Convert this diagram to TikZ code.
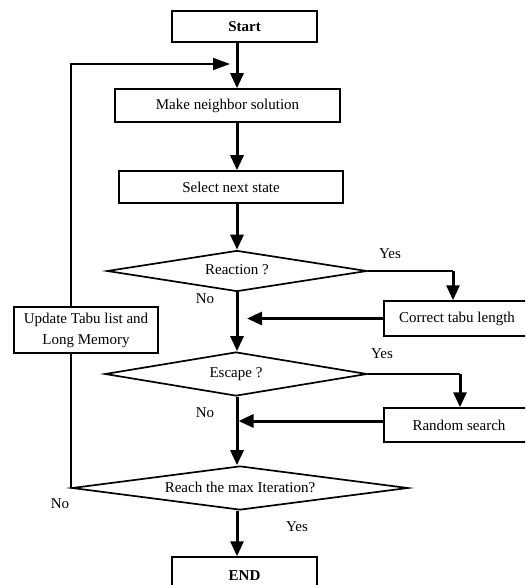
\documentclass[tikz,border=0pt]{standalone}
\usepackage{fontspec}
\setmainfont{Liberation Serif}
\usetikzlibrary{shapes.geometric,arrows.meta}
\begin{document}
\begin{tikzpicture}[x=1pt,y=-1pt,
  txt/.style={font=\fontsize{15}{21}\selectfont},
  box/.style={txt,draw,line width=1.5pt,fill=white,inner sep=0pt,align=center},
  dec/.style={txt,draw,diamond,aspect=7,line width=1.7pt,fill=white,inner sep=0pt},
  mainarrow/.style={line width=3pt,-{Triangle[length=15pt,width=13pt]}},
  thinline/.style={line width=2pt},
  looparrow/.style={line width=2pt,-{Triangle[length=17pt,width=12pt]}},
  lab/.style={txt,inner sep=0pt}]
\clip (0,0) rectangle (525,585);
\fill[white] (0,0) rectangle (525,585);
% nodes
\node[box,font=\fontsize{15}{21}\selectfont\bfseries,minimum width=145pt,minimum height=31pt] (start) at (244.5,26.5) {Start};
\node[box,minimum width=225pt,minimum height=33pt] (mk) at (227.5,105.5) {Make neighbor solution};
\node[box,minimum width=224pt,minimum height=32pt] (sel) at (231,187) {Select next state};
\node[dec,minimum width=260pt,minimum height=41pt] (react) at (237,271) {\raisebox{2pt}{Reaction ?}};
\node[dec,minimum width=262pt,minimum height=44pt] (esc) at (236,374) {\raisebox{2pt}{Escape ?}};
\node[dec,minimum width=336pt,minimum height=44pt] (reach) at (240,488) {\raisebox{1pt}{Reach the max Iteration?}};
\node[box,minimum width=144pt,minimum height=46pt] (upd) at (86,330) {Update Tabu list and\\Long Memory};
\node[box,minimum width=146pt,minimum height=35pt] (corr) at (457,318.5) {Correct tabu length};
\node[box,minimum width=150pt,minimum height=34pt] (rand) at (459,425) {Random search};
\node[box,font=\fontsize{15}{21}\selectfont\bfseries,minimum width=145pt,minimum height=38pt] (end) at (244.5,576) {END};
% labels
\node[lab] (y1) at (390,254) {Yes};
\node[lab] (n1) at (205,299) {No};
\node[lab] (y2) at (382,354) {Yes};
\node[lab] (n2) at (205,413) {No};
\node[lab] (n3) at (60,504) {No};
\node[lab] (y3) at (297,527) {Yes};
% coordinates
\coordinate (ycorr) at (453,271);
\coordinate (yrand) at (460,374);
\coordinate (ltop) at (73,64);
\coordinate (rw) at ([yshift=4pt]rand.west);
% main flow
\draw[mainarrow] (react.north |- start.south) -- (react.north |- mk.north);
\draw[mainarrow] (react.north |- mk.south) -- (react.north |- sel.north);
\draw[mainarrow] (react.north |- sel.south) -- (react.north);
\draw[mainarrow] (react.south) -- (react.south |- esc.north);
\draw[mainarrow] (react.south |- esc.south) -- (react.south |- reach.north);
\draw[mainarrow] (react.south |- reach.south) -- (react.south |- end.north);
% yes branches
\draw[thinline] (react.east) -- (ycorr);
\draw[mainarrow] (ycorr) -- (ycorr |- corr.north);
\draw[mainarrow] (corr.west) -- ([xshift=10pt]react.south |- corr.west);
\draw[thinline] (esc.east) -- (yrand);
\draw[mainarrow] (yrand) -- (yrand |- rand.north);
\draw[mainarrow] (rw) -- ([xshift=1.5pt]react.south |- rw);
% loop
\draw[thinline] (reach.west) -- (reach.west |- upd.south);
\draw[looparrow] (reach.west |- upd.north) -- (reach.west |- ltop) -- ([xshift=-7pt]react.north |- ltop);
\end{tikzpicture}
\end{document}
